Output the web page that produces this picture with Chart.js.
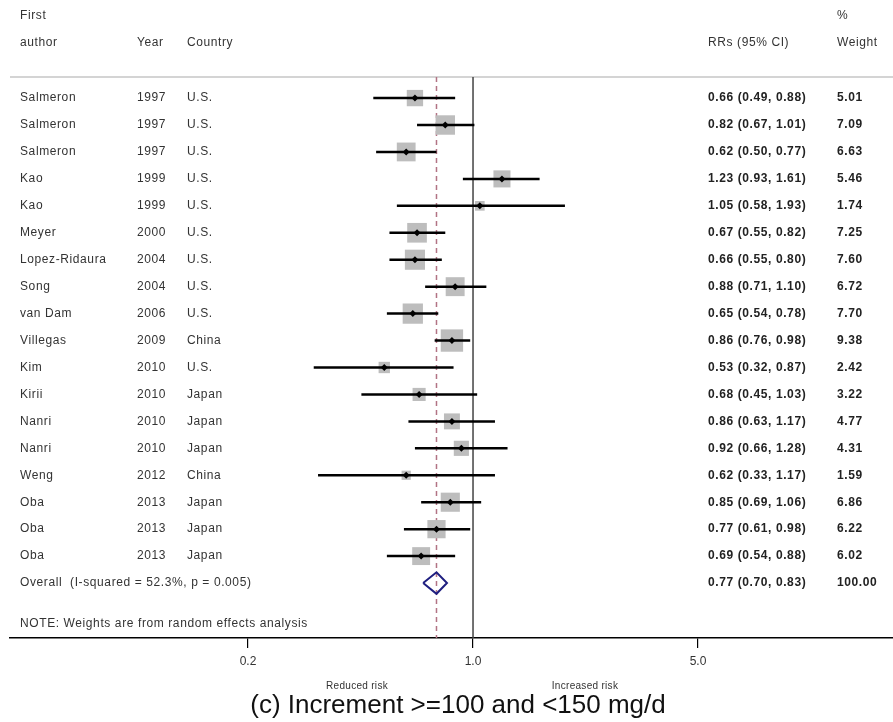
<!DOCTYPE html>
<html>
<head>
<meta charset="utf-8">
<script src="https://cdn.jsdelivr.net/npm/chart.js@4.4.1/dist/chart.umd.min.js"></script>
<style>
  html, body { margin: 0; padding: 0; background: #fff; }
  #wrap { width: 893px; height: 722px; }
</style>
</head>
<body>
<div id="wrap"><canvas id="forest" width="893" height="722"></canvas></div>
<script>
// study rows, top to bottom
const authors = ['Salmeron', 'Salmeron', 'Salmeron', 'Kao', 'Kao', 'Meyer', 'Lopez-Ridaura', 'Song', 'van Dam',
  'Villegas', 'Kim', 'Kirii', 'Nanri', 'Nanri', 'Weng', 'Oba', 'Oba', 'Oba'];
const years = [1997, 1997, 1997, 1999, 1999, 2000, 2004, 2004, 2006, 2009, 2010, 2010, 2010, 2010, 2012, 2013, 2013, 2013];
const countries = ['U.S.', 'U.S.', 'U.S.', 'U.S.', 'U.S.', 'U.S.', 'U.S.', 'U.S.', 'U.S.',
  'China', 'U.S.', 'Japan', 'Japan', 'Japan', 'China', 'Japan', 'Japan', 'Japan'];
const rr = [0.66, 0.82, 0.62, 1.23, 1.05, 0.67, 0.66, 0.88, 0.65, 0.86, 0.53, 0.68, 0.86, 0.92, 0.62, 0.85, 0.77, 0.69];
const ciLow = [0.49, 0.67, 0.50, 0.93, 0.58, 0.55, 0.55, 0.71, 0.54, 0.76, 0.32, 0.45, 0.63, 0.66, 0.33, 0.69, 0.61, 0.54];
const ciHigh = [0.88, 1.01, 0.77, 1.61, 1.93, 0.82, 0.80, 1.10, 0.78, 0.98, 0.87, 1.03, 1.17, 1.28, 1.17, 1.06, 0.98, 0.88];
const weights = [5.01, 7.09, 6.63, 5.46, 1.74, 7.25, 7.60, 6.72, 7.70, 9.38, 2.42, 3.22, 4.77, 4.31, 1.59, 6.86, 6.22, 6.02];

// pooled estimate: RR, lower, upper, weight
const overall = [0.77, 0.70, 0.83, 100.00];
const xTicks = [0.2, 1.0, 5.0];

const rows = authors.map((a, i) => i + 1);
const overallRow = rows.length + 1;
const FONT = '"Liberation Sans", Arial, sans-serif';

function fmtCI(r, l, h) {
  return r.toFixed(2) + ' (' + l.toFixed(2) + ', ' + h.toFixed(2) + ')';
}

const tablePlugin = {
  id: 'forestTable',
  beforeDatasetsDraw(chart) {
    const ctx = chart.ctx, y = chart.scales.y;
    const py = y.getPixelForValue(0.22);
    ctx.save();
    ctx.strokeStyle = '#d4d4d4';
    ctx.lineWidth = 2;
    ctx.beginPath();
    ctx.moveTo(chart.chartArea.left, py);
    ctx.lineTo(chart.chartArea.right, py);
    ctx.stroke();
    ctx.restore();
  },
  afterDraw(chart) {
    const ctx = chart.ctx, y = chart.scales.y;
    ctx.save();
    ctx.textBaseline = 'middle';
    ctx.letterSpacing = '0.6px';
    ctx.fillStyle = '#333';
    ctx.font = '12px ' + FONT;

    // header
    ctx.fillText('First', 20, y.getPixelForValue(-2.04));
    ctx.fillText('%', 837, y.getPixelForValue(-2.04));
    const hy = y.getPixelForValue(-1.04);
    ctx.fillText('author', 20, hy);
    ctx.fillText('Year', 137, hy);
    ctx.fillText('Country', 187, hy);
    ctx.fillText('RRs (95% CI)', 708, hy);
    ctx.fillText('Weight', 837, hy);

    rows.forEach((r, i) => {
      const py = y.getPixelForValue(r);
      ctx.font = '12px ' + FONT;
      ctx.fillStyle = '#333';
      ctx.fillText(authors[i], 20, py);
      ctx.fillText(String(years[i]), 137, py);
      ctx.fillText(countries[i], 187, py);
      ctx.font = 'bold 12px ' + FONT;
      ctx.fillStyle = '#222';
      ctx.fillText(fmtCI(rr[i], ciLow[i], ciHigh[i]), 708, py);
      ctx.fillText(weights[i].toFixed(2), 837, py);
    });

    const oy = y.getPixelForValue(overallRow);
    ctx.font = '12px ' + FONT;
    ctx.fillStyle = '#333';
    ctx.fillText('Overall  (I-squared = 52.3%, p = 0.005)', 20, oy);
    ctx.font = 'bold 12px ' + FONT;
    ctx.fillStyle = '#222';
    ctx.fillText(fmtCI(overall[0], overall[1], overall[2]), 708, oy);
    ctx.fillText(overall[3].toFixed(2), 837, oy);

    ctx.font = '12px ' + FONT;
    ctx.fillStyle = '#333';
    ctx.fillText('NOTE: Weights are from random effects analysis', 20, y.getPixelForValue(20.52));

    // below the axis
    ctx.textAlign = 'center';
    ctx.letterSpacing = '0.3px';
    ctx.font = '10px ' + FONT;
    ctx.fillText('Reduced risk', 357, 686);
    ctx.fillText('Increased risk', 585, 686);
    ctx.letterSpacing = '0px';
    ctx.font = '26px ' + FONT;
    ctx.fillStyle = '#111';
    ctx.fillText('(c) Increment >=100 and <150 mg/d', 458, 706);
    ctx.restore();
  }
};

const ciSets = rows.map((r, i) => ({
  data: [{ x: ciLow[i], y: r }, { x: ciHigh[i], y: r }],
  showLine: true,
  borderColor: '#000',
  borderWidth: 2.5,
  pointRadius: 0
}));

new Chart(document.getElementById('forest'), {
  type: 'scatter',
  data: {
    datasets: [
      {
        // point estimate markers
        data: rows.map((r, i) => ({ x: rr[i], y: r })),
        pointStyle: 'rectRot',
        pointRadius: 3.5,
        pointBackgroundColor: '#000',
        pointBorderWidth: 0
      },
      ...ciSets,
      {
        // weight boxes
        data: rows.map((r, i) => ({ x: rr[i], y: r })),
        pointStyle: 'rect',
        pointRadius: weights.map(w => 7.3 * Math.sqrt(w) / Math.SQRT2),
        pointBackgroundColor: '#bdbdbd',
        pointBorderWidth: 0
      },
      {
        // pooled diamond
        data: [
          { x: overall[1], y: overallRow },
          { x: overall[0], y: overallRow - 0.4 },
          { x: overall[2], y: overallRow },
          { x: overall[0], y: overallRow + 0.4 },
          { x: overall[1], y: overallRow }
        ],
        showLine: true,
        borderColor: '#1f1f80',
        borderWidth: 2,
        borderJoinStyle: 'miter',
        pointRadius: 0
      },
      {
        // overall effect line
        data: [{ x: overall[0], y: 0.22 }, { x: overall[0], y: 21.1 }],
        showLine: true,
        borderColor: '#b27384',
        borderWidth: 1.5,
        borderDash: [5, 4],
        pointRadius: 0
      },
      {
        // no effect line
        data: [{ x: 1, y: 0.22 }, { x: 1, y: 21.1 }],
        showLine: true,
        borderColor: '#444',
        borderWidth: 1.5,
        pointRadius: 0
      }
    ]
  },
  options: {
    responsive: false,
    animation: false,
    layout: { autoPadding: false, padding: { left: 10, right: 0, top: 0, bottom: 0 } },
    plugins: { legend: { display: false }, tooltip: { enabled: false } },
    scales: {
      x: {
        type: 'logarithmic',
        min: 0.03644,
        max: 20.17,
        afterBuildTicks: s => { s.ticks = xTicks.map(v => ({ value: v })); },
        afterFit: s => { s.height = 84; },
        grid: { drawOnChartArea: false, drawTicks: true, tickLength: 10, color: '#000', lineWidth: 1.2 },
        border: { display: true, color: '#000', width: 1.5 },
        ticks: {
          callback: v => Number(v).toFixed(1),
          font: { family: FONT, size: 12 },
          color: '#333',
          padding: 6,
          maxRotation: 0,
          autoSkip: false
        }
      },
      y: {
        type: 'linear',
        reverse: true,
        min: -2.64,
        max: 21.04,
        display: false
      }
    }
  },
  plugins: [tablePlugin]
});
</script>
</body>
</html>
